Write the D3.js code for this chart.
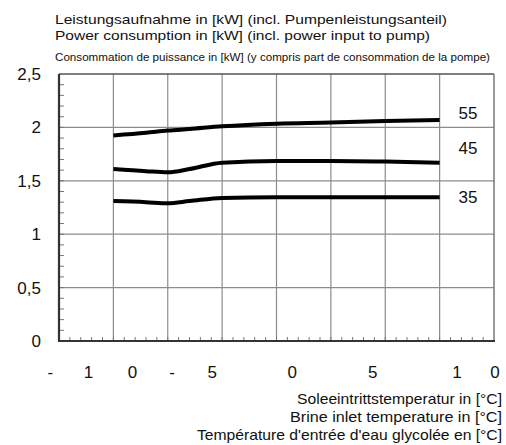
<!DOCTYPE html>
<html>
<head>
<meta charset="utf-8">
<script src="https://cdn.jsdelivr.net/npm/d3@7"></script>
<style>
  body { margin: 0; background: #fff; }
  svg { display: block; font-family: "Liberation Sans", Arial, sans-serif; }
</style>
</head>
<body>
<svg id="chart" width="506" height="445"></svg>
<script>
"use strict";

// brine inlet temperature (°C) where the curves are sampled
const brine_temp = [-7.5, -6, -5, -4, -2.5, 0, 2.5, 5, 7.5];
// power consumption (kW) per flow temperature
const power_35 = [1.31, 1.30, 1.29, 1.31, 1.34, 1.345, 1.345, 1.345, 1.345];
const power_45 = [1.61, 1.59, 1.58, 1.61, 1.67, 1.685, 1.685, 1.68, 1.67];
const power_55 = [1.925, 1.95, 1.97, 1.985, 2.01, 2.035, 2.045, 2.06, 2.07];
const series_names = ["35", "45", "55"];

const y_ticks = [0, 0.5, 1, 1.5, 2, 2.5];
const y_tick_labels = ["0", "0,5", "1", "1,5", "2", "2,5"];
// the x labels are printed one character at a time in the original
const x_label_chars = ["-", "1", "0", "-", "5", "0", "5", "1", "0"];
const x_label_at = [-10.4, -8.65, -6.62, -4.8, -2.95, 0.72, 4.42, 8.3, 10.05];

const title_lines = [
    "Leistungsaufnahme in [kW] (incl. Pumpenleistungsanteil)",
    "Power consumption in [kW] (incl. power input to pump)",
    "Consommation de puissance in [kW] (y compris part de consommation de la pompe)"
];
const x_title_lines = [
    "Soleeintrittstemperatur in [°C]",
    "Brine inlet temperature in [°C]",
    "Température d'entrée d'eau glycolée en [°C]"
];

const svg = d3.select("#chart");
const plot_left = 59, plot_right = 494, plot_top = 74, plot_bottom = 341;

const x = d3.scaleLinear().domain([-10, 10]).range([plot_left, plot_right]);
const y = d3.scaleLinear().domain([0, 2.5]).range([plot_bottom, plot_top]);

// grid
const grid = svg.append("g");
grid.selectAll(".vgrid")
    .data(d3.range(-7.5, 10, 2.5))
    .enter().append("line")
    .attr("x1", d => x(d)).attr("x2", d => x(d))
    .attr("y1", plot_top).attr("y2", plot_bottom)
    .attr("stroke", "#8c8c8c").attr("stroke-width", 1.2);
grid.selectAll(".hgrid")
    .data(y_ticks.slice(1, -1))
    .enter().append("line")
    .attr("x1", plot_left).attr("x2", plot_right)
    .attr("y1", d => y(d)).attr("y2", d => y(d))
    .attr("stroke", "#8c8c8c").attr("stroke-width", 1.2);

// minor ticks
grid.selectAll(".ytick")
    .data(d3.range(0.1, 2.5, 0.1))
    .enter().append("line")
    .attr("x1", plot_left).attr("x2", plot_left + 5)
    .attr("y1", d => y(d)).attr("y2", d => y(d))
    .attr("stroke", "#777").attr("stroke-width", 1);
grid.selectAll(".xtick")
    .data(d3.range(-9.5, 10, 0.5))
    .enter().append("line")
    .attr("x1", d => x(d)).attr("x2", d => x(d))
    .attr("y1", plot_bottom).attr("y2", plot_bottom - 4)
    .attr("stroke", "#777").attr("stroke-width", 1);

// frame
svg.append("line").attr("x1", plot_left).attr("x2", plot_right).attr("y1", plot_top).attr("y2", plot_top)
    .attr("stroke", "#555").attr("stroke-width", 1.5);
svg.append("line").attr("x1", plot_right).attr("x2", plot_right).attr("y1", plot_top).attr("y2", plot_bottom)
    .attr("stroke", "#777").attr("stroke-width", 1.5);
svg.append("line").attr("x1", plot_left).attr("x2", plot_left).attr("y1", plot_top).attr("y2", plot_bottom + 1)
    .attr("stroke", "#333").attr("stroke-width", 2.2);
svg.append("line").attr("x1", plot_left - 1).attr("x2", plot_right + 1).attr("y1", plot_bottom).attr("y2", plot_bottom)
    .attr("stroke", "#333").attr("stroke-width", 2.2);

// curves
const line = d3.line()
    .x((d, i) => x(brine_temp[i]))
    .y(d => y(d))
    .curve(d3.curveMonotoneX);

[power_35, power_45, power_55].forEach(vals => {
    svg.append("path")
        .attr("d", line(vals))
        .attr("fill", "none")
        .attr("stroke", "#000")
        .attr("stroke-width", 4)
        .attr("stroke-linecap", "butt");
});

// series labels
const label_offset = [1, -13.5, -5];
[power_35, power_45, power_55].forEach((vals, i) => {
    svg.append("text")
        .attr("x", 468)
        .attr("y", y(vals[vals.length - 1]) + label_offset[i])
        .attr("text-anchor", "middle")
        .attr("dominant-baseline", "middle")
        .attr("font-size", 17)
        .attr("fill", "#111")
        .text(series_names[i]);
});

// y labels
svg.selectAll(".ylab")
    .data(y_ticks)
    .enter().append("text")
    .attr("x", 41)
    .attr("y", d => y(d) + 6)
    .attr("text-anchor", "end")
    .attr("font-size", 17)
    .attr("fill", "#111")
    .text((d, i) => y_tick_labels[i]);

// x labels
svg.selectAll(".xlab")
    .data(x_label_chars)
    .enter().append("text")
    .attr("x", (d, i) => x(x_label_at[i]))
    .attr("y", 378)
    .attr("text-anchor", "middle")
    .attr("font-size", 17)
    .attr("fill", "#111")
    .text(d => d);

// titles
const title_y = [24, 40, 61];
const title_w = [392, 375, 435];
const title_size = [13.5, 13.5, 11];
title_lines.forEach((t, i) => {
    svg.append("text")
        .attr("x", 55)
        .attr("y", title_y[i])
        .attr("font-size", title_size[i])
        .attr("fill", "#111")
        .attr("textLength", title_w[i])
        .attr("lengthAdjust", "spacingAndGlyphs")
        .text(t);
});

const x_title_y = [404, 422, 440];
const x_title_w = [205, 212, 305];
x_title_lines.forEach((t, i) => {
    svg.append("text")
        .attr("x", 502 - x_title_w[i])
        .attr("y", x_title_y[i])
        .attr("font-size", 14.5)
        .attr("fill", "#111")
        .attr("textLength", x_title_w[i])
        .attr("lengthAdjust", "spacingAndGlyphs")
        .text(t);
});
</script>
</body>
</html>
